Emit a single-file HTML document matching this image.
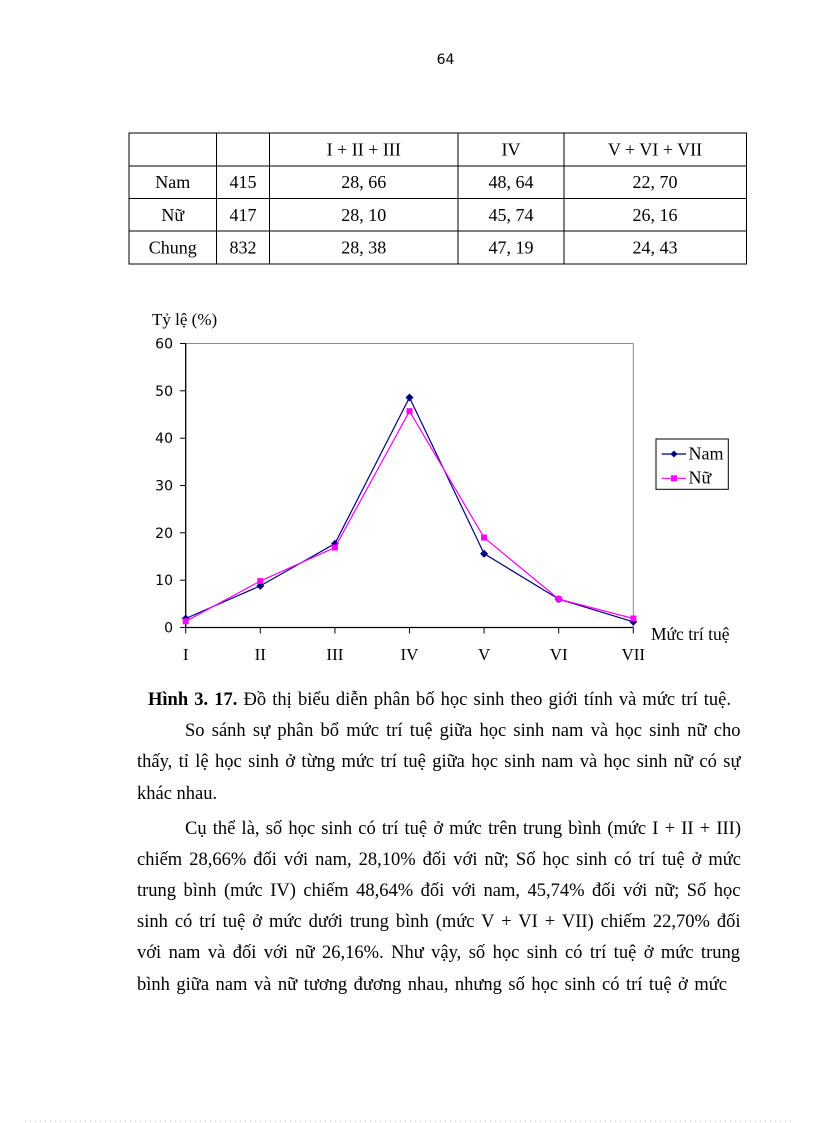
<!DOCTYPE html>
<html>
<head>
<meta charset="utf-8">
<style>
html,body{margin:0;padding:0;background:#fff;}
#pg{position:relative;width:816px;height:1123px;overflow:hidden;background:#fff;}
svg{display:block;position:absolute;left:0;top:0;}
.t{font-family:"Liberation Serif","DejaVu Serif",serif;fill:#000;}
.s{font-family:"DejaVu Sans","Liberation Sans",sans-serif;fill:#000;}
.ln{position:absolute;font-family:"Liberation Serif","DejaVu Serif",serif;font-size:18.5px;line-height:20.5px;height:21px;color:#000;white-space:nowrap;}
.j{text-align:justify;text-align-last:justify;white-space:normal;}
</style>
</head>
<body>
<div id="pg">
<svg width="816" height="1123" viewBox="0 0 816 1123" xmlns="http://www.w3.org/2000/svg">
<rect x="0" y="0" width="816" height="1123" fill="#fff"/>

<text class="s" x="445.5" y="64" font-size="14" text-anchor="middle">64</text>

<g stroke="#000" stroke-width="1" fill="none">
  <rect x="129" y="133" width="617.5" height="131"/>
  <line x1="129" y1="166" x2="746.5" y2="166"/>
  <line x1="129" y1="198.5" x2="746.5" y2="198.5"/>
  <line x1="129" y1="231" x2="746.5" y2="231"/>
  <line x1="216.5" y1="133" x2="216.5" y2="264"/>
  <line x1="269.5" y1="133" x2="269.5" y2="264"/>
  <line x1="458" y1="133" x2="458" y2="264"/>
  <line x1="564" y1="133" x2="564" y2="264"/>
</g>
<g class="t" font-size="18" text-anchor="middle">
  <text x="363.75" y="155.5">I + II + III</text>
  <text x="511" y="155.5">IV</text>
  <text x="655" y="155.5">V + VI + VII</text>

  <text x="172.75" y="188">Nam</text>
  <text x="243" y="188">415</text>
  <text x="363.75" y="188">28, 66</text>
  <text x="511" y="188">48, 64</text>
  <text x="655" y="188">22, 70</text>

  <text x="172.75" y="221">Nữ</text>
  <text x="243" y="221">417</text>
  <text x="363.75" y="221">28, 10</text>
  <text x="511" y="221">45, 74</text>
  <text x="655" y="221">26, 16</text>

  <text x="172.75" y="253.5">Chung</text>
  <text x="243" y="253.5">832</text>
  <text x="363.75" y="253.5">28, 38</text>
  <text x="511" y="253.5">47, 19</text>
  <text x="655" y="253.5">24, 43</text>
</g>

<text class="t" x="152" y="325" font-size="17">Tỷ lệ (%)</text>
<line x1="185.7" y1="343.5" x2="633.3" y2="343.5" stroke="#8a8a8a" stroke-width="1"/>
<line x1="633.3" y1="343.5" x2="633.3" y2="627.5" stroke="#8a8a8a" stroke-width="1"/>
<line x1="185.7" y1="343.5" x2="185.7" y2="627.5" stroke="#000" stroke-width="1.3"/>
<line x1="185.7" y1="627.5" x2="633.3" y2="627.5" stroke="#000" stroke-width="1.3"/>
<g stroke="#000" stroke-width="1">
  <line x1="180" y1="343.5" x2="185.7" y2="343.5"/>
  <line x1="180" y1="390.8" x2="185.7" y2="390.8"/>
  <line x1="180" y1="438.2" x2="185.7" y2="438.2"/>
  <line x1="180" y1="485.5" x2="185.7" y2="485.5"/>
  <line x1="180" y1="532.8" x2="185.7" y2="532.8"/>
  <line x1="180" y1="580.2" x2="185.7" y2="580.2"/>
  <line x1="180" y1="627.5" x2="185.7" y2="627.5"/>
</g>
<g class="s" font-size="14" text-anchor="end">
  <text x="173" y="348.5">60</text>
  <text x="173" y="395.8">50</text>
  <text x="173" y="443.2">40</text>
  <text x="173" y="490.5">30</text>
  <text x="173" y="537.8">20</text>
  <text x="173" y="585.2">10</text>
  <text x="173" y="632.5">0</text>
</g>
<g stroke="#000" stroke-width="1">
  <line x1="185.7" y1="627.5" x2="185.7" y2="633.5"/>
  <line x1="260.3" y1="627.5" x2="260.3" y2="633.5"/>
  <line x1="334.9" y1="627.5" x2="334.9" y2="633.5"/>
  <line x1="409.5" y1="627.5" x2="409.5" y2="633.5"/>
  <line x1="484.1" y1="627.5" x2="484.1" y2="633.5"/>
  <line x1="558.7" y1="627.5" x2="558.7" y2="633.5"/>
  <line x1="633.3" y1="627.5" x2="633.3" y2="633.5"/>
</g>
<g class="t" font-size="17" text-anchor="middle">
  <text x="185.7" y="660">I</text>
  <text x="260.3" y="660">II</text>
  <text x="334.9" y="660">III</text>
  <text x="409.5" y="660">IV</text>
  <text x="484.1" y="660">V</text>
  <text x="558.7" y="660">VI</text>
  <text x="633.3" y="660">VII</text>
</g>
<text class="t" x="651" y="640" font-size="17.5">Mức trí tuệ</text>

<polyline fill="none" stroke="#000080" stroke-width="1.2"
  points="185.7,618.5 260.3,585.9 334.9,543.7 409.5,397.5 484.1,553.7 558.7,599.1 633.3,621.8"/>
<g fill="#000080">
  <polygon points="185.7,614.5 189.7,618.5 185.7,622.5 181.7,618.5"/>
  <polygon points="260.3,581.9 264.3,585.9 260.3,589.9 256.3,585.9"/>
  <polygon points="334.9,539.7 338.9,543.7 334.9,547.7 330.9,543.7"/>
  <polygon points="409.5,393.5 413.5,397.5 409.5,401.5 405.5,397.5"/>
  <polygon points="484.1,549.7 488.1,553.7 484.1,557.7 480.1,553.7"/>
  <polygon points="558.7,595.1 562.7,599.1 558.7,603.1 554.7,599.1"/>
  <polygon points="633.3,617.8 637.3,621.8 633.3,625.8 629.3,621.8"/>
</g>
<polyline fill="none" stroke="#ff00ff" stroke-width="1.2"
  points="185.7,621.3 260.3,581.1 334.9,547.5 409.5,411.2 484.1,537.6 558.7,599.1 633.3,618.5"/>
<g fill="#ff00ff">
  <rect x="182.7" y="618.3" width="6" height="6"/>
  <rect x="257.3" y="578.1" width="6" height="6"/>
  <rect x="331.9" y="544.5" width="6" height="6"/>
  <rect x="406.5" y="408.2" width="6" height="6"/>
  <rect x="481.1" y="534.6" width="6" height="6"/>
  <rect x="555.7" y="596.1" width="6" height="6"/>
  <rect x="630.3" y="615.5" width="6" height="6"/>
</g>

<rect x="656" y="439" width="72.3" height="50.3" fill="#fff" stroke="#000" stroke-width="1"/>
<line x1="661.7" y1="454" x2="686" y2="454" stroke="#000080" stroke-width="1.2"/>
<polygon points="674,450.5 677.5,454 674,457.5 670.5,454" fill="#000080"/>
<line x1="661.7" y1="478.3" x2="686" y2="478.3" stroke="#ff00ff" stroke-width="1.2"/>
<rect x="671" y="475.3" width="6" height="6" fill="#ff00ff"/>
<text class="t" x="688.5" y="459.5" font-size="18">Nam</text>
<text class="t" x="688.5" y="483.5" font-size="18">Nữ</text>

<line x1="25" y1="1121" x2="792" y2="1121" stroke="#bbbbbb" stroke-width="1" stroke-dasharray="1,4"/>
</svg>

<div class="ln j" style="left:148px;top:690px;width:583px;"><b>Hình 3. 17.</b> Đồ thị biểu diễn phân bố học sinh theo giới tính và mức trí tuệ.</div>
<div class="ln j" style="left:185px;top:721px;width:555.5px;">So sánh sự phân bổ mức trí tuệ giữa học sinh nam và học sinh nữ cho</div>
<div class="ln j" style="left:137px;top:752px;width:603.5px;">thấy, tỉ lệ học sinh ở từng mức trí tuệ giữa học sinh nam và học sinh nữ có sự</div>
<div class="ln" style="left:137px;top:783.5px;">khác nhau.</div>
<div class="ln j" style="left:185px;top:819px;width:556px;">Cụ thể là, số học sinh có trí tuệ ở mức trên trung bình (mức I + II + III)</div>
<div class="ln j" style="left:137px;top:850px;width:604px;">chiếm 28,66% đối với nam, 28,10% đối với nữ; Số học sinh có trí tuệ ở mức</div>
<div class="ln j" style="left:137px;top:881px;width:603.5px;">trung bình (mức IV) chiếm 48,64% đối với nam, 45,74% đối với nữ; Số học</div>
<div class="ln j" style="left:137px;top:912px;width:603.5px;">sinh có trí tuệ ở mức dưới trung bình (mức V + VI + VII) chiếm 22,70% đối</div>
<div class="ln j" style="left:137px;top:943px;width:603px;">với nam và đối với nữ 26,16%. Như vậy, số học sinh có trí tuệ ở mức trung</div>
<div class="ln j" style="left:137px;top:975px;width:590px;">bình giữa nam và nữ tương đương nhau, nhưng số học sinh có trí tuệ ở mức</div>
</div>
</body>
</html>
